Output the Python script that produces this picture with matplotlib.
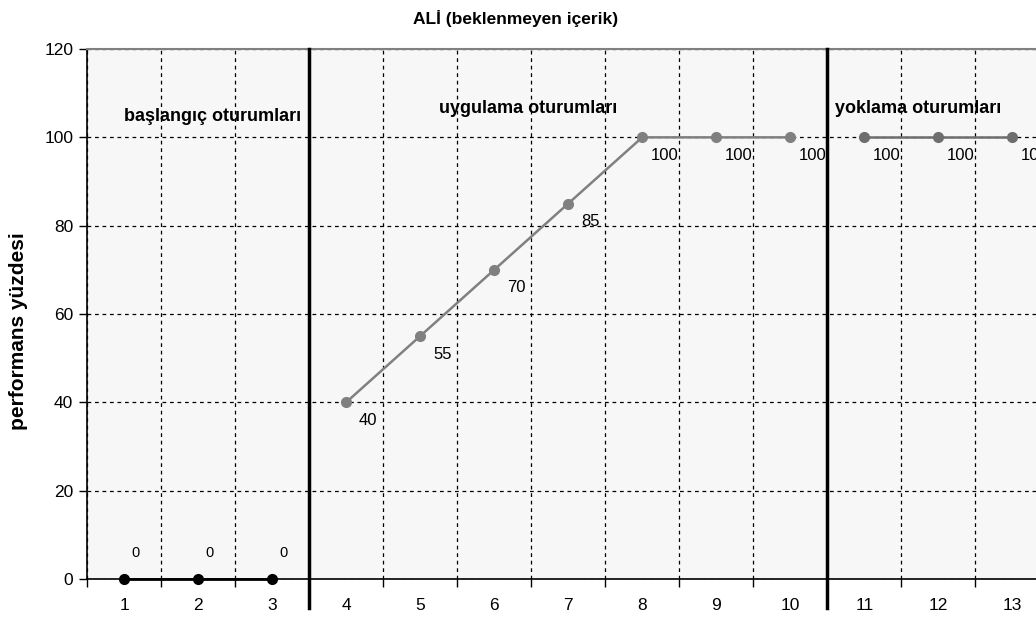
import matplotlib.pyplot as plt
import numpy as np

plt.rcParams['font.family'] = ['Liberation Sans', 'DejaVu Sans']

# veriler
baslangic_x = [1, 2, 3]
baslangic_y = [0, 0, 0]
uygulama_x = [4, 5, 6, 7, 8, 9, 10]
uygulama_y = [40, 55, 70, 85, 100, 100, 100]
yoklama_x = [11, 12, 13]
yoklama_y = [100, 100, 100]
faz_sinirlari = [3.5, 10.5]
faz_etiketleri = ["başlangıç oturumları", "uygulama oturumları", "yoklama oturumları"]
faz_etiket_x = [2.2, 6.46, 11.73]
faz_etiket_y = [104.8, 106.6, 106.6]

fig = plt.figure(figsize=(10.36, 6.23), dpi=100)
ax = fig.add_axes([0.084, 0.0706, 0.916, 0.8507])
ax.set_facecolor('#f7f7f7')

ax.set_xlim(0.5, 13.32)
ax.set_ylim(0, 120)

# ızgara
ax.set_xticks(range(1, 14))
ax.set_xticks(np.arange(0.5, 13, 1.0), minor=True)
ax.set_yticks(range(0, 121, 20))
ax.tick_params(axis='x', which='major', length=0, pad=14, labelsize=12.5)
ax.tick_params(axis='x', which='minor', length=6, width=1, direction='out')
ax.tick_params(axis='y', length=6, width=1, labelsize=12.5, pad=4)
ax.grid(True, axis='x', which='minor', linestyle=(0, (3, 3)), color='black', linewidth=0.9)
ax.grid(True, axis='y', which='major', linestyle=(0, (3, 3)), color='black', linewidth=0.9)
ax.set_axisbelow(True)

ax.spines['right'].set_visible(False)
ax.spines['top'].set_color('#808080')
ax.spines['top'].set_linewidth(1.5)
ax.spines['left'].set_linewidth(1.2)
ax.spines['bottom'].set_linewidth(1.2)

# seriler
ax.plot(baslangic_x, baslangic_y, color='black', lw=2, marker='o', ms=7, clip_on=False, zorder=5)
ax.plot(uygulama_x, uygulama_y, color='#808080', lw=1.8, marker='o', ms=7, zorder=5)
ax.plot(yoklama_x, yoklama_y, color='#6e6e6e', lw=1.8, marker='o', ms=7, zorder=5)

for x, y in zip(baslangic_x, baslangic_y):
    ax.annotate(f"{y}", (x, y), xytext=(8.5, 18.5), textcoords='offset points',
                fontsize=10.5, ha='center', va='center')
for x, y in zip(uygulama_x + yoklama_x, uygulama_y + yoklama_y):
    ax.annotate(f"{y}", (x, y), xytext=(16, -13), textcoords='offset points',
                fontsize=12, ha='center', va='center')

# faz çizgileri
for fx in faz_sinirlari:
    ax.plot([fx, fx], [-6.5, 120], color='black', lw=2.5, clip_on=False, zorder=6)

for t, x, y in zip(faz_etiketleri, faz_etiket_x, faz_etiket_y):
    ax.text(x, y, t, ha='center', va='center', fontsize=13, fontweight='bold')

fig.text(0.018, 0.469, "performans yüzdesi", rotation=90, ha='center', va='center',
         fontsize=15, fontweight='bold')
fig.text(0.498, 0.971, "ALİ (beklenmeyen içerik)", ha='center', va='center',
         fontsize=12.5, fontweight='bold')

fig.savefig("out.png", dpi=100)
